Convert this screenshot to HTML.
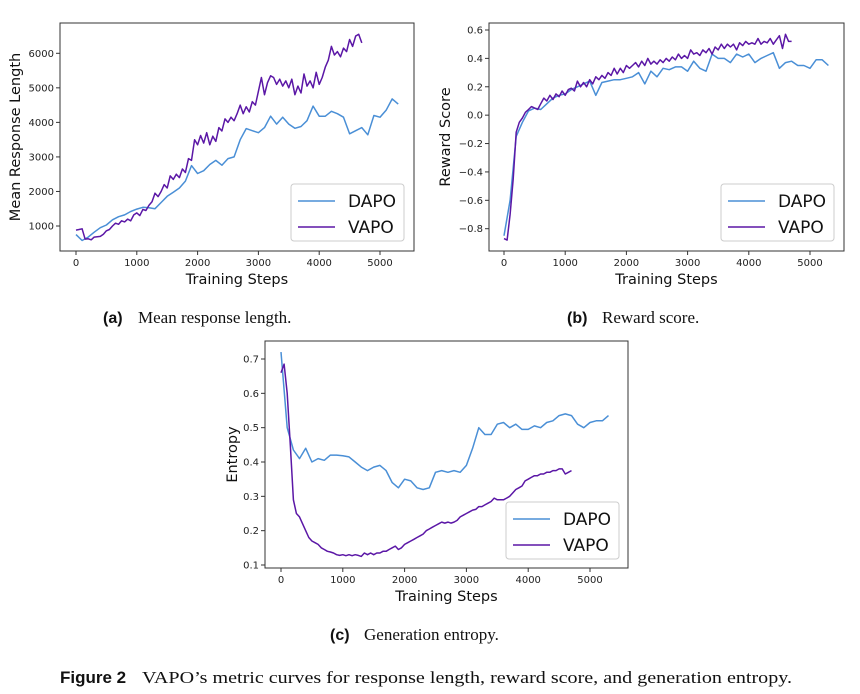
<!DOCTYPE html>
<html><head><meta charset="utf-8">
<style>
html,body{margin:0;padding:0;background:#fff;}
svg{display:block;font-family:"DejaVu Sans","Liberation Sans",sans-serif;}
.tick{font-size:10px;fill:#222;}
.axl{font-size:14.5px;fill:#111;}
.leg{font-size:17px;fill:#111;}
.cap{font-family:"Liberation Serif",serif;font-size:17px;fill:#111;}
.capb{font-family:"Liberation Sans",sans-serif;font-weight:bold;font-size:16px;fill:#111;}
</style></head>
<body>
<svg id="fig" width="860" height="694" viewBox="0 0 860 694">
<text class="capb" x="103" y="323">(a)</text>
<text class="cap" x="138" y="323">Mean response length.</text>
<text class="capb" x="567" y="323">(b)</text>
<text class="cap" x="602" y="323">Reward score.</text>
<text class="capb" x="330" y="640">(c)</text>
<text class="cap" x="364" y="640">Generation entropy.</text>
<text class="capb" x="60" y="683" style="font-size:17px">Figure 2</text>
<text class="cap" x="142" y="683" textLength="650" lengthAdjust="spacingAndGlyphs">VAPO’s metric curves for response length, reward score, and generation entropy.</text>
</svg>
<script>
// Chart (a) Mean response length
const aDapo = [750,580,680,820,950,1030,1180,1270,1320,1420,1490,1540,1530,1500,1680,1860,1980,2100,2300,2750,2520,2600,2780,2900,2760,2950,3000,3500,3820,3760,3700,3850,4180,3950,4150,3950,3830,3880,4050,4470,4180,4180,4320,4250,4150,3670,3760,3850,3640,4200,4150,4350,4680,4530];
const aVapo = [880,900,920,620,630,600,680,690,700,760,860,900,1000,1080,1050,1150,1120,1200,1150,1320,1380,1300,1480,1450,1600,1700,1950,1850,2000,2200,2100,2450,2350,2500,2400,2650,2550,2950,2900,3500,3350,3620,3400,3700,3350,3600,3450,3850,3750,4100,4000,4150,4050,4250,4500,4250,4450,4300,4600,4500,4900,5300,4800,5150,5350,5300,5100,5250,5050,5200,5000,5250,4800,5050,4850,5400,5050,5200,5000,5450,5100,5300,5600,5800,6200,5950,6050,5900,6150,6050,6400,6200,6500,6550,6300];
// Chart (b) Reward score
const bDapo = [-0.85,-0.6,-0.15,-0.05,0.03,0.05,0.04,0.08,0.12,0.14,0.15,0.18,0.2,0.22,0.24,0.14,0.23,0.24,0.25,0.25,0.26,0.27,0.3,0.22,0.31,0.27,0.33,0.32,0.34,0.34,0.31,0.38,0.33,0.31,0.43,0.4,0.4,0.37,0.43,0.41,0.43,0.37,0.4,0.42,0.44,0.33,0.37,0.38,0.35,0.35,0.33,0.39,0.39,0.35];
const bVapo = [-0.87,-0.88,-0.7,-0.45,-0.12,-0.05,-0.02,0.02,0.04,0.06,0.05,0.04,0.08,0.12,0.1,0.14,0.11,0.15,0.13,0.17,0.14,0.18,0.19,0.17,0.24,0.2,0.23,0.2,0.25,0.22,0.27,0.25,0.28,0.26,0.3,0.28,0.33,0.29,0.33,0.3,0.35,0.33,0.35,0.37,0.34,0.38,0.35,0.4,0.36,0.38,0.36,0.39,0.37,0.4,0.38,0.41,0.39,0.43,0.4,0.42,0.4,0.46,0.43,0.44,0.42,0.46,0.44,0.47,0.43,0.48,0.46,0.5,0.47,0.5,0.48,0.5,0.46,0.51,0.49,0.52,0.5,0.51,0.5,0.54,0.5,0.52,0.51,0.54,0.5,0.53,0.56,0.47,0.57,0.52,0.52];
// Chart (c) Generation entropy
const cDapo = [0.72,0.5,0.435,0.41,0.44,0.4,0.41,0.405,0.42,0.42,0.418,0.415,0.4,0.385,0.375,0.385,0.39,0.375,0.34,0.325,0.35,0.345,0.325,0.32,0.325,0.37,0.375,0.37,0.375,0.37,0.39,0.44,0.5,0.48,0.48,0.51,0.515,0.5,0.51,0.495,0.495,0.505,0.5,0.515,0.52,0.535,0.54,0.535,0.51,0.5,0.515,0.52,0.52,0.535];
const cVapo = [0.66,0.685,0.6,0.45,0.29,0.25,0.24,0.22,0.2,0.18,0.17,0.165,0.16,0.15,0.145,0.14,0.138,0.135,0.13,0.128,0.13,0.127,0.13,0.127,0.13,0.128,0.125,0.135,0.13,0.135,0.13,0.135,0.135,0.14,0.14,0.145,0.15,0.155,0.145,0.15,0.16,0.165,0.17,0.175,0.18,0.185,0.19,0.2,0.205,0.21,0.215,0.22,0.225,0.222,0.225,0.222,0.225,0.23,0.24,0.245,0.25,0.255,0.26,0.262,0.27,0.27,0.275,0.28,0.285,0.295,0.29,0.29,0.29,0.295,0.3,0.31,0.32,0.325,0.33,0.345,0.35,0.355,0.36,0.36,0.365,0.365,0.37,0.37,0.375,0.375,0.38,0.38,0.365,0.37,0.375];
const xTicks = [0,1000,2000,3000,4000,5000];
const aTicks = [1000,2000,3000,4000,5000,6000];
const bTicks = [-0.8,-0.6,-0.4,-0.2,0.0,0.2,0.4,0.6];
const cTicks = [0.1,0.2,0.3,0.4,0.5,0.6,0.7];
const dapoStep = 100, vapoStep = 50;

const NS = 'http://www.w3.org/2000/svg';
const svg = document.getElementById('fig');
function mk(tag, attrs, parent){
  const e = document.createElementNS(NS, tag);
  for (const k in attrs) e.setAttribute(k, attrs[k]);
  (parent||svg).appendChild(e); return e;
}
function chart(cfg){
  const g = mk('g', {});
  
  
  const X = v => cfg.x0 + (v - 0) * (cfg.x5000 - cfg.x0) / 5000;
  const Y = v => cfg.yA + (v - cfg.vA) * (cfg.yB - cfg.yA) / (cfg.vB - cfg.vA);
  const frame = mk('rect', {x:cfg.L, y:cfg.T, width:cfg.R-cfg.L, height:cfg.B-cfg.T, fill:'#fff', stroke:'#333', 'stroke-width':1}, g);
  
  
  xTicks.forEach(t => {
    const tl = mk('line', {x1:X(t), x2:X(t), y1:cfg.B, y2:cfg.B+4, stroke:'#333'}, g);
    
    
    const tx = mk('text', {x:X(t), y:cfg.B+15, 'text-anchor':'middle', class:'tick'}, g);
    
    
    tx.textContent = t;
  });
  cfg.yTicks.forEach(t => {
    const tl = mk('line', {x1:cfg.L-4, x2:cfg.L, y1:Y(t), y2:Y(t), stroke:'#333'}, g);
    
    
    const tx = mk('text', {x:cfg.L-6, y:Y(t)+3.5, 'text-anchor':'end', class:'tick'}, g);
    
    
    tx.textContent = cfg.fmt(t);
  });
  const xl = mk('text', {x:(cfg.L+cfg.R)/2, y:cfg.B+33, 'text-anchor':'middle', class:'axl'}, g);
  
  
  xl.textContent = 'Training Steps';
  const yl = mk('text', {x:0, y:0, 'text-anchor':'middle', class:'axl', transform:`translate(${cfg.yTitleX},${(cfg.T+cfg.B)/2}) rotate(-90)`}, g);
  
  
  yl.textContent = cfg.yTitle;
  const series = [[cfg.dapo, dapoStep, '#4a8fd6', 'dapo-line'], [cfg.vapo, vapoStep, '#5b17a6', 'vapo-line']];
  series.forEach(([d, st, col, nm]) => {
    const pts = d.map((v,i) => X(i*st).toFixed(1)+','+Y(v).toFixed(1)).join(' ');
    const pl = mk('polyline', {points:pts, fill:'none', stroke:col, 'stroke-width':1.5, 'stroke-linejoin':'round'}, g);
    
    
  });
  const lg = mk('g', {}, g);
  
  
  mk('rect', {x:cfg.lx, y:cfg.ly, width:113, height:57, rx:3, fill:'#fff', stroke:'#ccc'}, lg);
  [['DAPO','#4a8fd6',17],['VAPO','#5b17a6',43]].forEach(([t,c,dy]) => {
    const e = mk('g', {}, lg);
    
    
    mk('line', {x1:cfg.lx+7, x2:cfg.lx+44, y1:cfg.ly+dy, y2:cfg.ly+dy, stroke:c, 'stroke-width':1.5}, e);
    const tx = mk('text', {x:cfg.lx+57, y:cfg.ly+dy+6, class:'leg'}, e);
    tx.textContent = t;
  });
}
chart({name:'chart-response-length', L:60, R:414, T:23, B:251, x0:76, x5000:380, vA:1000, yA:226, vB:6000, yB:53.3,
  yTicks:aTicks, fmt:t=>String(t), dapo:aDapo, vapo:aVapo, yTitle:'Mean Response Length', yTitleX:20, lx:291, ly:184});
chart({name:'chart-reward-score', L:489, R:844, T:23, B:251, x0:504, x5000:810, vA:-0.8, yA:228.7, vB:0.6, yB:30,
  yTicks:bTicks, fmt:t=>t.toFixed(1).replace('-','\u2212'), dapo:bDapo, vapo:bVapo, yTitle:'Reward Score', yTitleX:450, lx:721, ly:184});
chart({name:'chart-entropy', L:265, R:628, T:341, B:568, x0:281, x5000:590, vA:0.1, yA:565, vB:0.7, yB:359,
  yTicks:cTicks, fmt:t=>t.toFixed(1), dapo:cDapo, vapo:cVapo, yTitle:'Entropy', yTitleX:237, lx:506, ly:502});
</script>
</body></html>
